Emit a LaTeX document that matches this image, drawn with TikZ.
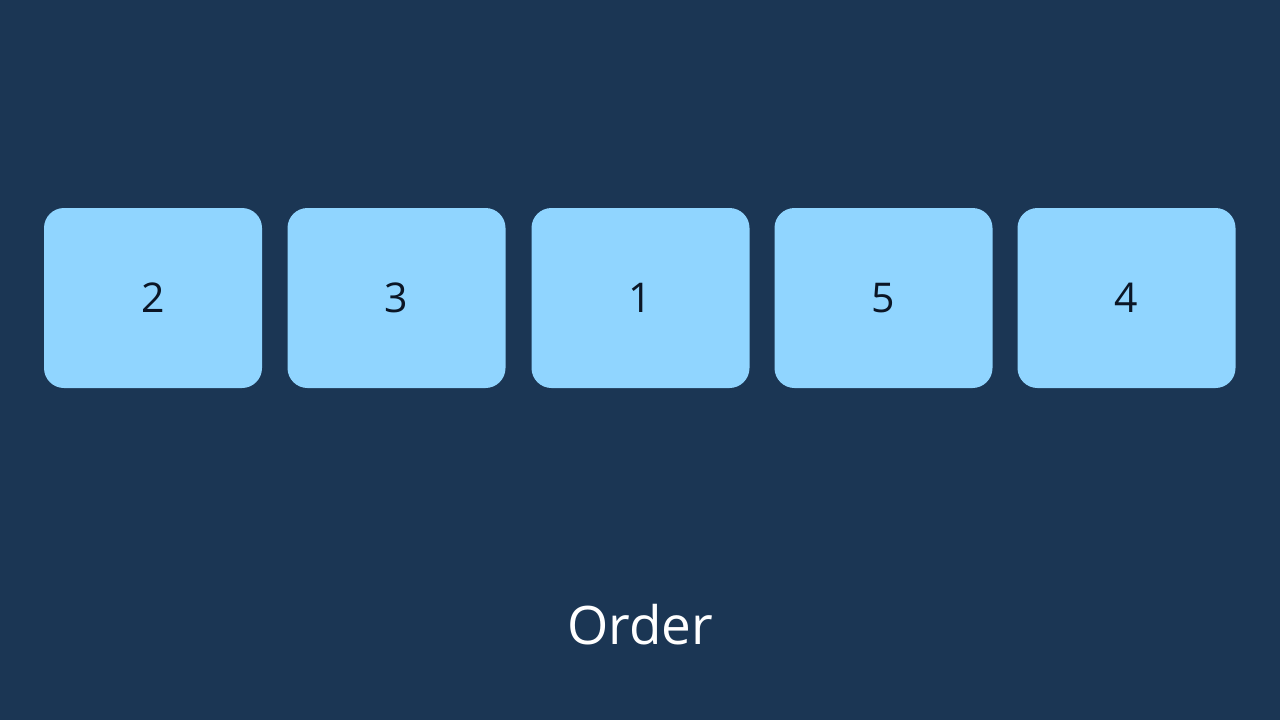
\documentclass[tikz,border=0pt]{standalone}
\usepackage{fontspec}
\setmainfont{Open Sans}
\definecolor{bg}{HTML}{1B3654}
\definecolor{boxfill}{HTML}{90D5FF}
\definecolor{numtext}{HTML}{0B1626}
\begin{document}
\begin{tikzpicture}[x=1pt,y=-1pt,
  card/.style={fill=boxfill, draw=none, rounded corners=20pt, minimum width=218pt, minimum height=180pt, inner sep=0pt, text=numtext, font=\fontsize{41}{49}\selectfont},
  caption/.style={text=white, font=\fontsize{53}{64}\selectfont, inner sep=0pt}]
\fill[bg] (0,0) rectangle (1280,720);
\useasboundingbox (0,0) rectangle (1280,720);
\node[card] (b1) at (153,298) {2};
\node[card] (b2) at (396.5,298) {3};
\node[card] (b3) at (640.5,298) {1};
\node[card] (b4) at (883.5,298) {5};
\node[card] (b5) at (1126.5,298) {4};
\node[caption] (order) at (640,625) {Order};
\end{tikzpicture}
\end{document}
